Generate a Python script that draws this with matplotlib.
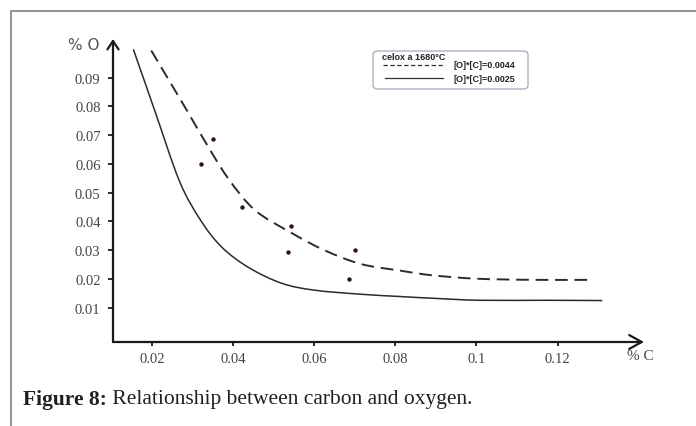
import matplotlib
matplotlib.use("Agg")
import matplotlib.pyplot as plt
from matplotlib.lines import Line2D
from matplotlib.patches import FancyBboxPatch, PathPatch
from matplotlib.path import Path

# ---------------- data ----------------
solid_c = [0.0154, 0.0207, 0.0268, 0.0319, 0.0371, 0.0438, 0.0520, 0.0601,
           0.0715, 0.0812, 0.0906, 0.1008, 0.1176, 0.1310]
solid_o = [0.0998, 0.0784, 0.0539, 0.0406, 0.0312, 0.0240, 0.0185, 0.0161,
           0.0147, 0.0139, 0.0132, 0.0126, 0.0126, 0.0125]

dashed_c = [0.0198, 0.0288, 0.0326, 0.0387, 0.0454, 0.0544, 0.0625, 0.0715,
            0.0812, 0.0890, 0.1000, 0.1140, 0.1285]
dashed_o = [0.0994, 0.0781, 0.0689, 0.0551, 0.0439, 0.0360, 0.0300, 0.0252,
            0.0229, 0.0213, 0.0201, 0.0197, 0.0197]

meas_c = [0.0321, 0.0351, 0.0422, 0.0542, 0.0536, 0.0700, 0.0685]
meas_o = [0.0600, 0.0688, 0.0449, 0.0383, 0.0294, 0.0300, 0.0200]

x_ticks = [0.02, 0.04, 0.06, 0.08, 0.10, 0.12]
x_tick_labels = ["0.02", "0.04", "0.06", "0.08", "0.1", "0.12"]
y_ticks = [0.01, 0.02, 0.03, 0.04, 0.05, 0.06, 0.07, 0.08, 0.09]
y_tick_labels = ["0.01", "0.02", "0.03", "0.04", "0.05", "0.06", "0.07", "0.08", "0.09"]

legend_title = "celox a 1680°C"
legend_labels = ["[O]*[C]=0.0044", "[O]*[C]=0.0025"]
x_label = "% C"
y_label = "% O"
caption_bold = "Figure 8:"
caption_text = " Relationship between carbon and oxygen."

# ---------------- figure ----------------
W, H = 696, 427
fig = plt.figure(figsize=(W / 100, H / 100), dpi=100)
fig.patch.set_facecolor("white")


def fx(px):
    return px / W


def fy(py):
    return 1 - py / H


def smooth_path(xs, ys):
    """Cubic Bezier path (Catmull-Rom) through the read points."""
    pts = list(zip(xs, ys))
    n = len(pts)
    verts = [pts[0]]
    codes = [Path.MOVETO]
    for i in range(n - 1):
        p0 = pts[i - 1] if i > 0 else pts[i]
        p1 = pts[i]
        p2 = pts[i + 1]
        p3 = pts[i + 2] if i + 2 < n else pts[i + 1]
        c1 = (p1[0] + (p2[0] - p0[0]) / 6, p1[1] + (p2[1] - p0[1]) / 6)
        c2 = (p2[0] - (p3[0] - p1[0]) / 6, p2[1] - (p3[1] - p1[1]) / 6)
        verts += [c1, c2, p2]
        codes += [Path.CURVE4] * 3
    return Path(verts, codes)


ax_l, ax_r, ax_t, ax_b = 113, 644, 40, 343
ax = fig.add_axes([fx(ax_l), fy(ax_b), (ax_r - ax_l) / W, (ax_b - ax_t) / H])
ax.set_xlim(0.01038, 0.1413)
ax.set_ylim(-0.0019, 0.1034)
ax.set_facecolor("none")

for s in ax.spines.values():
    s.set_visible(False)

axis_col = "#1a1a1a"
ax.annotate("", xy=(1, 0), xytext=(0, 0), xycoords="axes fraction",
            arrowprops=dict(arrowstyle="->,head_length=0.9,head_width=0.5",
                            lw=1.6, color=axis_col, shrinkA=0, shrinkB=0),
            annotation_clip=False)
ax.annotate("", xy=(0, 1), xytext=(0, 0), xycoords="axes fraction",
            arrowprops=dict(arrowstyle="->,head_length=0.6,head_width=0.4",
                            lw=1.6, color=axis_col, shrinkA=0, shrinkB=0),
            annotation_clip=False)

ax.set_xticks(x_ticks)
ax.set_xticklabels(x_tick_labels)
ax.set_yticks(y_ticks)
ax.set_yticklabels(y_tick_labels)
ax.tick_params(axis="x", direction="out", length=3, width=1.3, color=axis_col,
               pad=4, labelsize=10.5, labelcolor="#444444")
ax.tick_params(axis="y", direction="out", length=3.5, width=1.3, color=axis_col,
               pad=5.5, labelsize=10.5, labelcolor="#444444")
for lab in ax.get_xticklabels() + ax.get_yticklabels():
    lab.set_fontfamily("Liberation Serif")

ax.add_patch(PathPatch(smooth_path(solid_c, solid_o), fill=False,
                       edgecolor="#2b2b2b", lw=1.1))
ax.add_patch(PathPatch(smooth_path(dashed_c, dashed_o), fill=False,
                       edgecolor="#2b2b2b", lw=1.4, linestyle=(0, (6.5, 3.5))))
ax.scatter(meas_c, meas_o, s=10, color="#2a1416", zorder=3, linewidths=0)

# axis labels
fig.text(fx(84), fy(45), y_label, ha="center", va="center", fontsize=11,
         color="#555555", family="DejaVu Sans")
fig.text(fx(640), fy(357), x_label, ha="center", va="center", fontsize=11,
         color="#444444", family="Liberation Serif")

# legend box
box = FancyBboxPatch((fx(373), fy(90)), fx(528) - fx(373), fy(52) - fy(90),
                     boxstyle="round,pad=0,rounding_size=0.008",
                     transform=fig.transFigure, facecolor="white",
                     edgecolor="#a9b3bd", lw=1.0)
fig.patches.append(box)
leg_fs = 6.5
fig.text(fx(382), fy(57), legend_title, ha="left", va="center", fontsize=leg_fs,
         fontweight="bold", color="#222222", family="Liberation Sans")
fig.lines.append(Line2D([fx(383), fx(445)], [fy(65.5), fy(65.5)], transform=fig.transFigure,
                        color="#333333", lw=0.9, dashes=(3.5, 2)))
fig.lines.append(Line2D([fx(385), fx(443)], [fy(79), fy(79)], transform=fig.transFigure,
                        color="#333333", lw=0.9))
fig.text(fx(453), fy(66), legend_labels[0], ha="left", va="center", fontsize=leg_fs,
         fontweight="bold", color="#222222", family="Liberation Sans")
fig.text(fx(453), fy(79.3), legend_labels[1], ha="left", va="center", fontsize=leg_fs,
         fontweight="bold", color="#222222", family="Liberation Sans")

# outer frame
fig.lines.append(Line2D([fx(11), fx(11), fx(696)], [fy(427), fy(12), fy(12)],
                        transform=fig.transFigure, color="#8a8a8a", lw=1.3))

# caption
cap_x0, cap_y = 23, 400
fs = 15.5
t1 = fig.text(fx(cap_x0), fy(cap_y), caption_bold, ha="left", va="center", fontsize=fs,
              fontweight="bold", color="#231f20", family="Liberation Serif")
t2 = fig.text(0, fy(cap_y), caption_text, ha="left", va="center", fontsize=fs,
              color="#231f20", family="Liberation Serif")
r = fig.canvas.get_renderer()
bb = t1.get_window_extent(r)
t2.set_x(bb.x1 / W)

fig.savefig("out.png", dpi=100)
